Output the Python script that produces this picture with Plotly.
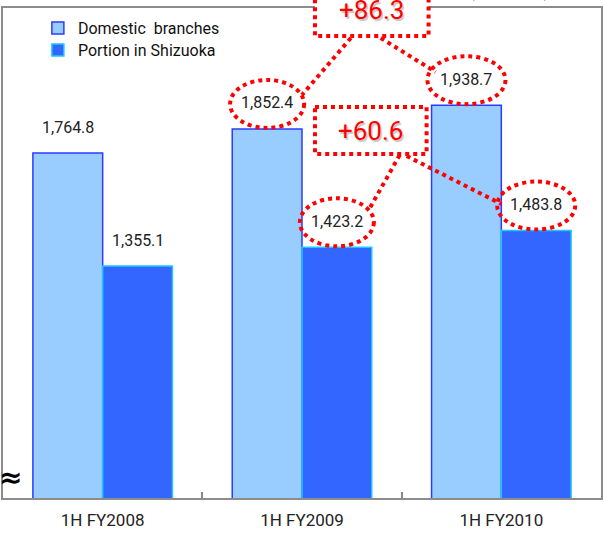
import plotly.graph_objects as go

# Half-year periods and balances (¥ billion)
periods = ["1H FY2008", "1H FY2009", "1H FY2010"]
domestic = [1764.8, 1852.4, 1938.7]
shizuoka = [1355.1, 1423.2, 1483.8]
series_names = ["Domestic  branches", "Portion in Shizuoka"]
unit_label = "(¥ billion)"

FONT = "Liberation Sans Narrow, Arial Narrow, Roboto, Arial, sans-serif"
RED = "#ff0000"
DOT = "4px,4px"

W, H = 604, 546
ML, MR, MT, MB = 3, 1, 8, 48
PW, PH = W - ML - MR, H - MT - MB


def px(x):
    return (x - ML) / PW


def py(y):
    return (H - MB - y) / PH


fig = go.Figure()
fig.add_trace(go.Bar(
    x=periods, y=domestic, name=series_names[0], legend="legend",
    marker=dict(color="#99ccff", line=dict(color="#2b3cff", width=1.5)),
))
fig.add_trace(go.Bar(
    x=periods, y=shizuoka, name=series_names[1], legend="legend2",
    marker=dict(color="#3366ff", line=dict(color="#1ec8ff", width=1.5)),
))

annotations = []
shapes = []
OFF = 0.175  # half of one bar's width in category units

# value labels above every bar
for i, (d, s) in enumerate(zip(domestic, shizuoka)):
    for xv, yv in ((i - OFF, d), (i + OFF, s)):
        annotations.append(dict(
            x=xv, y=yv, xref="x", yref="y", text=f"{yv:,.1f}",
            showarrow=False, yanchor="middle", yshift=26,
            font=dict(family=FONT, size=16, color="#222222"),
        ))


def ring(xv, yv, rx=38):
    shapes.append(dict(
        type="circle", xref="x", yref="y",
        xsizemode="pixel", xanchor=xv, x0=-rx, x1=rx,
        ysizemode="pixel", yanchor=yv, y0=1, y1=49,
        line=dict(color=RED, width=4, dash=DOT), layer="above",
    ))


# rings around the FY2009 and FY2010 figures
ring(1 - OFF, domestic[1], 37)
ring(2 - OFF, domestic[2], 39)
ring(1 + OFF, shizuoka[1], 37)
ring(2 + OFF, shizuoka[2], 39)


def dotted_line(x0, y0, x1, y1):
    shapes.append(dict(
        type="line", xref="paper", yref="paper",
        x0=px(x0), y0=py(y0), x1=px(x1), y1=py(y1),
        line=dict(color=RED, width=4, dash=DOT), layer="above",
    ))


def callout(text, x0, y0, x1, y1):
    shapes.append(dict(
        type="rect", xref="paper", yref="paper",
        x0=px(x0), y0=py(y0), x1=px(x1), y1=py(y1),
        fillcolor="white", line=dict(color=RED, width=4, dash=DOT),
        layer="above",
    ))
    cx, cy = (x0 + x1) / 2, (y0 + y1) / 2
    annotations.append(dict(
        x=px(cx), y=py(cy), xref="paper", yref="paper",
        text=text, showarrow=False, xanchor="center", yanchor="middle",
        font=dict(family=FONT, size=26, color=RED,
                  shadow="1.5px 1.5px 1px #c4c4c4"),
    ))


inc_dom = domestic[2] - domestic[1]
inc_shz = shizuoka[2] - shizuoka[1]

dotted_line(352, 38, 303, 95)
dotted_line(382, 38, 437, 72)
dotted_line(401, 155, 370, 210)
dotted_line(408, 156, 503, 204)
callout(f"+{inc_dom:.1f}", 316, -16, 430, 36)
callout(f"+{inc_shz:.1f}", 316, 107, 428, 154)

# break mark on the value axis
annotations.append(dict(
    x=0, y=py(496), xref="paper", yref="paper", text="<b>≈</b>",
    showarrow=False, xanchor="left", xshift=-6,
    font=dict(family="DejaVu Sans", size=28, color="black"),
))
# unit caption above the frame
annotations.append(dict(
    x=px(554), y=py(3), xref="paper", yref="paper", text=unit_label,
    showarrow=False, yanchor="bottom",
    font=dict(family=FONT, size=20, color="#222222"),
))

legend_common = dict(
    xanchor="left", yanchor="middle", bgcolor="rgba(0,0,0,0)",
    font=dict(family=FONT, size=16, color="#111111"),
)

fig.update_layout(
    width=W, height=H,
    margin=dict(l=ML, r=MR, t=MT, b=MB),
    paper_bgcolor="white", plot_bgcolor="white",
    barmode="group", bargap=0.3, bargroupgap=0,
    showlegend=True,
    legend=dict(x=px(38), y=py(28), **legend_common),
    legend2=dict(x=px(38), y=py(50), **legend_common),
    xaxis=dict(
        type="category", tickson="boundaries", ticks="inside", ticklen=6,
        tickcolor="#888888", tickwidth=1.5, ticklabelstandoff=6,
        showline=True, linecolor="#8c8c8c", linewidth=2, mirror=True,
        showgrid=False, tickfont=dict(family=FONT, size=17, color="#222222"),
        range=[-0.5, 2.5],
    ),
    yaxis=dict(
        range=[514, 2291], showticklabels=False, showgrid=False, zeroline=False,
        showline=True, linecolor="#8c8c8c", linewidth=1.5, mirror=True, ticks="",
    ),
    annotations=annotations,
    shapes=shapes,
)

fig.write_html("out.html")
